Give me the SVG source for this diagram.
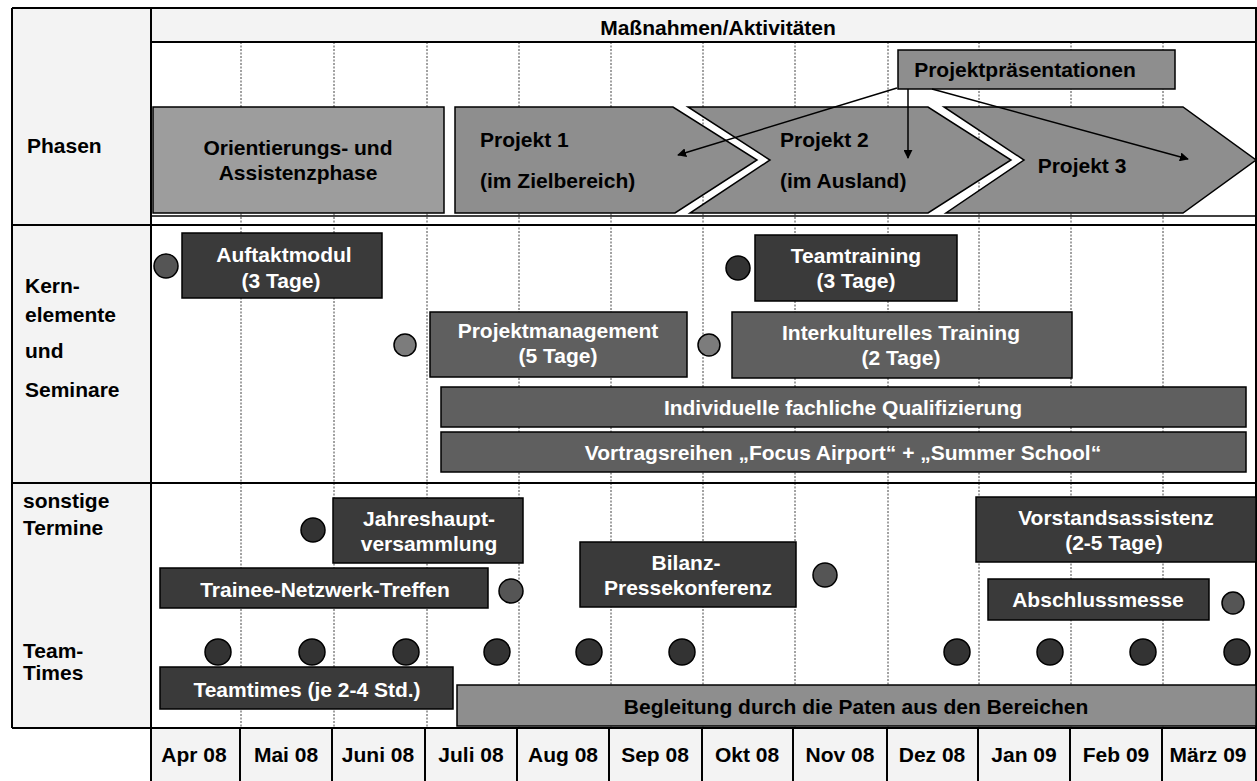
<svg xmlns="http://www.w3.org/2000/svg" width="1257" height="781" viewBox="0 0 1257 781">
<defs>
<style>
text{font-family:"Liberation Sans",Arial,sans-serif;font-weight:bold;font-size:21px}
.b{fill:#000}
.w{fill:#fff}
.c{text-anchor:middle}
.frame{stroke:#000;stroke-width:2;fill:none}
.thin{stroke:#000;stroke-width:1.5;fill:none}
.grid{stroke:#444;stroke-width:1;stroke-dasharray:2 1.5;fill:none}
.bg{fill:#f3f3f3}
.dark{fill:#3a3a3a;stroke:#000;stroke-width:1.5}
.mid{fill:#5f5f5f;stroke:#000;stroke-width:1.5}
.phase{fill:#8e8e8e;stroke:#000;stroke-width:1.5}
.light{fill:#9d9d9d;stroke:#000;stroke-width:1.5}
.dot{fill:#333;stroke:#000;stroke-width:1.5}
.dotm{fill:#555;stroke:#000;stroke-width:1.5}
.dotl{fill:#7c7c7c;stroke:#000;stroke-width:1.5}
.arr{stroke:#000;stroke-width:1.5;fill:none;marker-end:url(#ah)}
</style>
<marker id="ah" viewBox="0 0 10 10" refX="9" refY="5" markerWidth="9" markerHeight="9" markerUnits="userSpaceOnUse" orient="auto"><path d="M0,0 L10,5 L0,10 z" fill="#000"/></marker>
</defs>
<rect width="1257" height="781" fill="#fff"/>
<g id="backgrounds">
<rect class="bg" x="12" y="8" width="139" height="720"/>
<rect class="bg" x="151" y="8" width="1106" height="34"/>
<rect class="bg" x="150" y="728" width="1107" height="53"/>
</g>
<g id="grid">
<line class="grid" x1="241" y1="42" x2="241" y2="728"/>
<line class="grid" x1="334" y1="42" x2="334" y2="728"/>
<line class="grid" x1="427" y1="42" x2="427" y2="728"/>
<line class="grid" x1="519" y1="42" x2="519" y2="728"/>
<line class="grid" x1="611" y1="42" x2="611" y2="728"/>
<line class="grid" x1="703" y1="42" x2="703" y2="728"/>
<line class="grid" x1="795" y1="42" x2="795" y2="728"/>
<line class="grid" x1="888" y1="42" x2="888" y2="728"/>
<line class="grid" x1="979" y1="42" x2="979" y2="728"/>
<line class="grid" x1="1071" y1="42" x2="1071" y2="728"/>
<line class="grid" x1="1163" y1="42" x2="1163" y2="728"/>
</g>
<g id="frame">
<line class="frame" x1="12" y1="8" x2="1257" y2="8"/>
<line class="frame" x1="12" y1="8" x2="12" y2="728"/>
<line class="frame" x1="1256" y1="8" x2="1256" y2="781"/>
<line class="frame" x1="151" y1="8" x2="151" y2="781"/>
<line class="frame" x1="151" y1="42" x2="1257" y2="42"/>
<line class="thin" x1="151" y1="216" x2="1257" y2="216"/>
<line class="frame" x1="12" y1="225" x2="1257" y2="225"/>
<line class="frame" x1="12" y1="483" x2="1257" y2="483"/>
<line class="frame" x1="12" y1="728" x2="1257" y2="728"/>
<line class="frame" x1="240" y1="728" x2="240" y2="781"/>
<line class="frame" x1="332" y1="728" x2="332" y2="781"/>
<line class="frame" x1="425" y1="728" x2="425" y2="781"/>
<line class="frame" x1="517" y1="728" x2="517" y2="781"/>
<line class="frame" x1="609" y1="728" x2="609" y2="781"/>
<line class="frame" x1="702" y1="728" x2="702" y2="781"/>
<line class="frame" x1="793" y1="728" x2="793" y2="781"/>
<line class="frame" x1="887" y1="728" x2="887" y2="781"/>
<line class="frame" x1="978" y1="728" x2="978" y2="781"/>
<line class="frame" x1="1070" y1="728" x2="1070" y2="781"/>
<line class="frame" x1="1162" y1="728" x2="1162" y2="781"/>
</g>
<g id="row-labels">
<text class="b" x="718" y="35" text-anchor="middle">Maßnahmen/Aktivitäten</text>
<text class="b" x="27" y="153">Phasen</text>
<text class="b" x="25" y="293">Kern-</text>
<text class="b" x="25" y="322">elemente</text>
<text class="b" x="25" y="358">und</text>
<text class="b" x="25" y="397">Seminare</text>
<text class="b" x="23" y="508">sonstige</text>
<text class="b" x="23" y="535">Termine</text>
<text class="b" x="23" y="658">Team-</text>
<text class="b" x="23" y="680">Times</text>
</g>
<g id="months">
<text class="b c" x="194" y="762">Apr 08</text>
<text class="b c" x="286" y="762">Mai 08</text>
<text class="b c" x="378" y="762">Juni 08</text>
<text class="b c" x="471" y="762">Juli 08</text>
<text class="b c" x="563" y="762">Aug 08</text>
<text class="b c" x="655" y="762">Sep 08</text>
<text class="b c" x="747" y="762">Okt 08</text>
<text class="b c" x="840" y="762">Nov 08</text>
<text class="b c" x="932" y="762">Dez 08</text>
<text class="b c" x="1024" y="762">Jan 09</text>
<text class="b c" x="1116" y="762">Feb 09</text>
<text class="b c" x="1208" y="762">März 09</text>
</g>
<g id="phase-orientierung">
<rect class="light" x="153" y="107" width="291" height="106"/>
<text class="b c" x="298" y="155">Orientierungs-  und</text>
<text class="b c" x="298" y="180">Assistenzphase</text>
</g>
<g id="phase-projekt1">
<polygon class="phase" points="455,107 673,107 757,160 675,213 455,213"/>
<text class="b" x="480" y="147">Projekt 1</text>
<text class="b" x="480" y="188">(im Zielbereich)</text>
</g>
<g id="phase-projekt2">
<polygon class="phase" points="688,107 928,107 1011,160 928,213 690,213 770,160"/>
<text class="b" x="780" y="147">Projekt 2</text>
<text class="b" x="780" y="188">(im Ausland)</text>
</g>
<g id="phase-projekt3">
<polygon class="phase" points="944,107 1183,107 1256,160 1183,213 946,213 1024,160"/>
<text class="b c" x="1082" y="173">Projekt 3</text>
</g>
<g id="projektpraesentationen">
<rect class="phase" x="898" y="50" width="277" height="39"/>
<text class="b c" x="1025" y="77">Projektpräsentationen</text>
</g>
<g id="auftaktmodul">
<circle class="dotm" cx="166" cy="266" r="12"/>
<rect class="dark" x="182" y="233" width="200" height="65"/>
<text class="w c" x="284" y="262">Auftaktmodul</text>
<text class="w c" x="281" y="288">(3 Tage)</text>
</g>
<g id="teamtraining">
<circle class="dot" cx="738" cy="268" r="12"/>
<rect class="dark" x="755" y="235" width="202" height="66"/>
<text class="w c" x="856" y="263">Teamtraining</text>
<text class="w c" x="856" y="288">(3 Tage)</text>
</g>
<g id="projektmanagement">
<circle class="dotl" cx="405" cy="345" r="11"/>
<rect class="mid" x="430" y="312" width="257" height="65"/>
<text class="w c" x="558" y="338">Projektmanagement</text>
<text class="w c" x="558" y="363">(5 Tage)</text>
</g>
<g id="interkulturelles-training">
<circle class="dotl" cx="709" cy="345" r="11"/>
<rect class="mid" x="732" y="312" width="340" height="66"/>
<text class="w c" x="901" y="340">Interkulturelles Training</text>
<text class="w c" x="901" y="365">(2 Tage)</text>
</g>
<g id="qualifizierung">
<rect class="mid" x="441" y="387" width="805" height="40"/>
<text class="w c" x="843" y="415">Individuelle fachliche Qualifizierung</text>
</g>
<g id="vortragsreihen">
<rect class="mid" x="441" y="432" width="805" height="40"/>
<text class="w c" x="843" y="460">Vortragsreihen „Focus Airport“ + „Summer School“</text>
</g>
<g id="jahreshauptversammlung">
<circle class="dot" cx="313" cy="530" r="12"/>
<rect class="dark" x="333" y="498" width="190" height="65"/>
<text class="w c" x="429" y="526">Jahreshaupt-</text>
<text class="w c" x="429" y="551">versammlung</text>
</g>
<g id="trainee-netzwerk">
<rect class="dark" x="160" y="568" width="328" height="40"/>
<text class="w c" x="325" y="597">Trainee-Netzwerk-Treffen</text>
<circle class="dotm" cx="511" cy="591" r="12"/>
</g>
<g id="bilanz">
<rect class="dark" x="580" y="542" width="216" height="65"/>
<text class="w c" x="686" y="570">Bilanz-</text>
<text class="w c" x="688" y="595">Pressekonferenz</text>
<circle class="dotm" cx="825" cy="575" r="12"/>
</g>
<g id="vorstandsassistenz">
<rect class="dark" x="976" y="497" width="280" height="65"/>
<text class="w c" x="1116" y="525">Vorstandsassistenz</text>
<text class="w c" x="1114" y="550">(2-5 Tage)</text>
</g>
<g id="abschlussmesse">
<rect class="dark" x="988" y="579" width="221" height="41"/>
<text class="w c" x="1098" y="607">Abschlussmesse</text>
<circle class="dotm" cx="1233" cy="603" r="11"/>
</g>
<g id="teamtimes-dots">
<circle class="dot" cx="218" cy="652" r="13"/>
<circle class="dot" cx="312" cy="652" r="13"/>
<circle class="dot" cx="406" cy="652" r="13"/>
<circle class="dot" cx="497" cy="652" r="13"/>
<circle class="dot" cx="589" cy="652" r="13"/>
<circle class="dot" cx="682" cy="652" r="13"/>
<circle class="dot" cx="957" cy="652" r="13"/>
<circle class="dot" cx="1050" cy="652" r="13"/>
<circle class="dot" cx="1143" cy="652" r="13"/>
<circle class="dot" cx="1237" cy="652" r="13"/>
</g>
<g id="teamtimes">
<rect class="dark" x="160" y="667" width="293" height="42"/>
<text class="w c" x="307" y="697">Teamtimes (je 2-4 Std.)</text>
</g>
<g id="begleitung">
<rect class="phase" x="457" y="685" width="799" height="41"/>
<text class="b c" x="856" y="714">Begleitung durch die Paten aus den Bereichen</text>
</g>
<g id="connectors">
<line class="arr" x1="897" y1="88" x2="678" y2="155"/>
<line class="arr" x1="908" y1="89" x2="908" y2="158"/>
<line class="arr" x1="932" y1="89" x2="1188" y2="159"/>
</g>
</svg>
